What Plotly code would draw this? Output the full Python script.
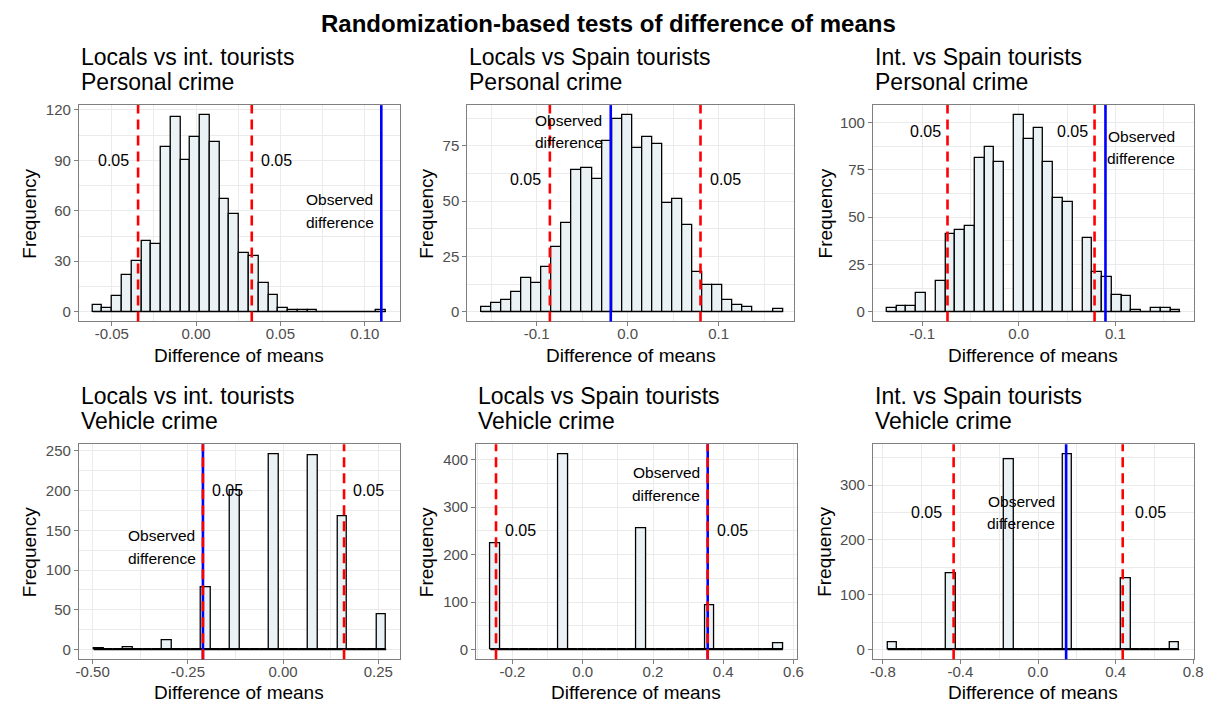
import plotly.graph_objects as go

FONT = "Liberation Sans, Arial, sans-serif"
W, H = 1220, 704

main_title = "Randomization-based tests of difference of means"
comparisons = ["Locals vs int. tourists", "Locals vs Spain tourists", "Int. vs Spain tourists"]
crime_types = ["Personal crime", "Vehicle crime"]
x_title = "Difference of means"
y_title = "Frequency"
sig_text = "0.05"
obs_text = ["Observed", "difference"]

# ---- histogram counts (30 bins each) ----
counts_personal_li = [4, 2, 9, 22, 30, 42, 40, 98, 116, 90, 104, 117, 101, 67, 58,
                      35, 33, 17, 10, 2, 1, 1, 1, 0, 0, 0, 0, 0, 0, 1]
counts_personal_ls = [2, 4, 5, 9, 15, 13, 20, 29, 40, 64, 65, 60, 77, 87, 89,
                      74, 79, 76, 49, 51, 39, 18, 12, 12, 5, 3, 2, 0, 0, 1]
counts_personal_is = [2, 3, 3, 10, 0, 16, 41, 43, 45, 81, 87, 79, 0, 104, 91,
                      97, 79, 60, 58, 0, 39, 21, 18, 9, 8, 1, 0, 2, 2, 1]
counts_vehicle_li = [2, 0, 0, 3, 0, 0, 0, 12, 0, 0, 0, 79, 0, 0, 200,
                     0, 0, 0, 246, 0, 0, 0, 245, 0, 0, 168, 0, 0, 0, 45]
counts_vehicle_ls = [224, 0, 0, 0, 0, 0, 0, 412, 0, 0, 0, 0, 0, 0, 0,
                     256, 0, 0, 0, 0, 0, 0, 94, 0, 0, 0, 0, 0, 0, 14]
counts_vehicle_is = [13, 0, 0, 0, 0, 0, 140, 0, 0, 0, 0, 0, 347, 0, 0,
                     0, 0, 0, 357, 0, 0, 0, 0, 0, 130, 0, 0, 0, 0, 13]

# bins: first edge and width per panel
bin_first_edge = [-0.06137, -0.1609, -0.1365, -0.4975, -0.2632, -0.7757]
bin_width = [0.005791, 0.011053, 0.010123, 0.02561, 0.02776, 0.05013]

# critical values and observed difference per panel
crit_low = [-0.0344, -0.0854, -0.0737, -0.2105, -0.247, -0.435]
crit_high = [0.0330, 0.0801, 0.0785, 0.1601, 0.3558, 0.4367]
observed = [0.1098, -0.0185, 0.0898, -0.2105, 0.3558, 0.145]

# text label positions (data units)
sig_label_y = [90, 60, 95, 200, 250, 250]
sig_label_x_low = [-0.0488, -0.112, -0.0961, -0.1455, -0.1786, -0.574]
sig_label_x_high = [0.0475, 0.1073, 0.0557, 0.2247, 0.4254, 0.578]
obs_label_x = [0.0853, -0.0645, 0.1268, -0.3193, 0.238, -0.0865]
obs_label_y = [60, 81.5, 86.75, 129, 349, 250]

# tick labels
x_ticks = [
    ["-0.05", "0.00", "0.05", "0.10"],
    ["-0.1", "0.0", "0.1"],
    ["-0.1", "0.0", "0.1"],
    ["-0.50", "-0.25", "0.00", "0.25"],
    ["-0.2", "0.0", "0.2", "0.4", "0.6"],
    ["-0.8", "-0.4", "0.0", "0.4", "0.8"],
]
y_ticks = [
    [0, 30, 60, 90, 120],
    [0, 25, 50, 75],
    [0, 25, 50, 75, 100],
    [0, 50, 100, 150, 200, 250],
    [0, 100, 200, 300, 400],
    [0, 100, 200, 300],
]

all_counts = [counts_personal_li, counts_personal_ls, counts_personal_is,
              counts_vehicle_li, counts_vehicle_ls, counts_vehicle_is]

# ---- layout geometry (pixels) ----
panel_x_px = [(76.7, 401.3), (469.3, 799.5), (879.3, 1203.5),
              (76.7, 401.3), (478.3, 802.3), (879.3, 1203.5)]
row_y_px = [(101.7, 319.3), (442.7, 659.0)]
x_ranges = [(-0.0695, 0.1209), (-0.1761, 0.1828), (-0.1509, 0.1811),
            (-0.5363, 0.3071), (-0.3034, 0.6093), (-0.851, 0.8025)]
ytitle_x_px = [26.7, 428, 831, 26.7, 428, 831]
xtitle_y_px = [354, 692]

FILL = "#EAF2F6"
GRID = "#EBEBEB"
BORDER = "#7F7F7F"

fig = go.Figure()
annotations = []
shapes = []
layout_axes = {}


def px_x(v):
    return v / W


def px_y(v):
    return 1 - v / H


def minor_vals(vals):
    step = vals[1] - vals[0]
    out = [vals[0] - step / 2]
    for a, b in zip(vals[:-1], vals[1:]):
        out.append((a + b) / 2)
    out.append(vals[-1] + step / 2)
    return out


for i in range(6):
    n = i + 1
    sfx = "" if n == 1 else str(n)
    xa, ya = "x" + sfx, "y" + sfx
    row = 0 if i < 3 else 1
    col = i % 3
    counts = all_counts[i]
    w = bin_width[i]
    e0 = bin_first_edge[i]
    centers = [e0 + (k + 0.5) * w for k in range(len(counts))]

    fig.add_trace(go.Bar(
        x=centers, y=counts, width=w, xaxis=xa, yaxis=ya,
        marker=dict(color=FILL, line=dict(color="black", width=1.3)),
        showlegend=False, hoverinfo="x+y"))
    fig.add_trace(go.Scatter(
        x=[e0, e0 + len(counts) * w], y=[0, 0], mode="lines", xaxis=xa, yaxis=ya,
        line=dict(color="black", width=1.3), showlegend=False, hoverinfo="skip"))

    ymax = max(counts)
    xv = [float(t) for t in x_ticks[i]]
    yv = y_ticks[i]
    x0p, x1p = panel_x_px[i]
    y0p, y1p = row_y_px[row]

    layout_axes["xaxis" + sfx] = dict(
        domain=[px_x(x0p), px_x(x1p)], anchor=ya, range=list(x_ranges[i]),
        tickmode="array", tickvals=xv, ticktext=x_ticks[i],
        showgrid=True, gridcolor=GRID, gridwidth=1.1, zeroline=False,
        minor=dict(tickmode="array", tickvals=minor_vals(xv), showgrid=True,
                   gridcolor=GRID, gridwidth=0.6),
        showline=True, mirror=True, linecolor=BORDER, linewidth=1,
        ticks="outside", ticklen=4, tickcolor=BORDER, tickwidth=1,
        ticklabelstandoff=-5,
        tickfont=dict(family=FONT, size=15, color="#4D4D4D"))
    layout_axes["yaxis" + sfx] = dict(
        domain=[px_y(y1p), px_y(y0p)], anchor=xa,
        range=[-0.05 * ymax, 1.05 * ymax],
        tickmode="array", tickvals=yv, ticktext=[str(v) for v in yv],
        showgrid=True, gridcolor=GRID, gridwidth=1.1, zeroline=False,
        minor=dict(tickmode="array", tickvals=minor_vals(yv), showgrid=True,
                   gridcolor=GRID, gridwidth=0.6),
        showline=True, mirror=True, linecolor=BORDER, linewidth=1,
        ticks="outside", ticklen=4, tickcolor=BORDER, tickwidth=1,
        tickfont=dict(family=FONT, size=15, color="#4D4D4D"))

    # vertical lines: observed (blue) under critical values (red dashed)
    shapes.append(dict(type="line", xref=xa, yref=ya + " domain",
                       x0=observed[i], x1=observed[i], y0=0, y1=1,
                       line=dict(color="#0000FF", width=2.6)))
    for cv in (crit_low[i], crit_high[i]):
        shapes.append(dict(type="line", xref=xa, yref=ya + " domain",
                           x0=cv, x1=cv, y0=0, y1=1,
                           line=dict(color="#FF0000", width=2.6, dash="10px,6px")))

    # text labels
    for lx in (sig_label_x_low[i], sig_label_x_high[i]):
        annotations.append(dict(x=lx, y=sig_label_y[i], xref=xa, yref=ya,
                                text=sig_text, showarrow=False,
                                font=dict(family=FONT, size=16, color="black"),
                                xanchor="center", yanchor="middle"))
    for txt, shift in zip(obs_text, (11.3, -11.3)):
        annotations.append(dict(x=obs_label_x[i], y=obs_label_y[i], xref=xa, yref=ya,
                                text=txt, showarrow=False, yshift=shift,
                                font=dict(family=FONT, size=15.5, color="black"),
                                xanchor="center", yanchor="middle"))

    # subplot titles (two lines)
    t1y = 53 if row == 0 else 394
    t2y = 78 if row == 0 else 419
    for txt, ty in ((comparisons[col], t1y), (crime_types[row], t2y)):
        annotations.append(dict(x=px_x(x0p), y=px_y(ty), xref="paper", yref="paper",
                                text=txt, showarrow=False, xanchor="left", yanchor="middle",
                                font=dict(family=FONT, size=23, color="black")))

    # axis titles
    annotations.append(dict(x=px_x((x0p + x1p) / 2), y=px_y(xtitle_y_px[row]),
                            xref="paper", yref="paper", text=x_title, showarrow=False,
                            xanchor="center", yanchor="middle",
                            font=dict(family=FONT, size=19, color="black")))
    annotations.append(dict(x=px_x(ytitle_x_px[i]), y=px_y((y0p + y1p) / 2),
                            xref="paper", yref="paper", text=y_title, showarrow=False,
                            textangle=-90, xanchor="center", yanchor="middle",
                            font=dict(family=FONT, size=19, color="black")))

annotations.append(dict(x=px_x(612), y=px_y(20), xref="paper", yref="paper",
                        text="<b>" + main_title + "</b>", showarrow=False,
                        xanchor="center", yanchor="middle",
                        font=dict(family=FONT, size=24, color="black")))

fig.update_layout(
    width=W, height=H, margin=dict(l=0, r=0, t=0, b=0),
    paper_bgcolor="white", plot_bgcolor="white",
    font=dict(family=FONT), showlegend=False, bargap=0,
    annotations=annotations, shapes=shapes, **layout_axes)

fig.write_html("out.html")
